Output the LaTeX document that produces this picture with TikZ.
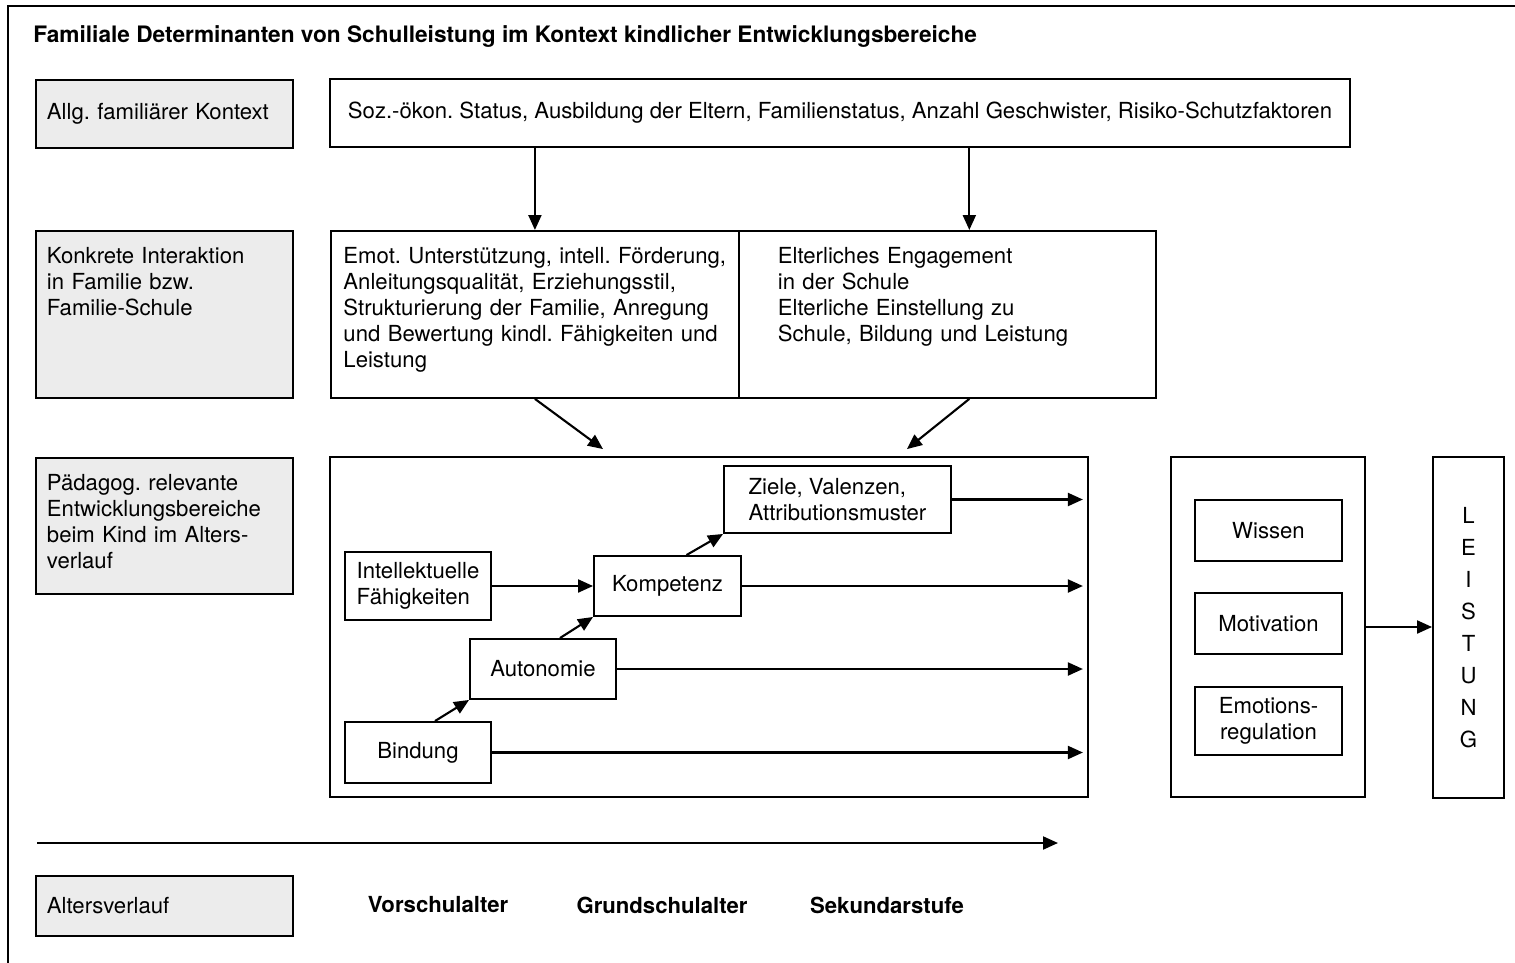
\documentclass[tikz,border=0pt]{standalone}
\usepackage{fontspec}
\setmainfont{TeX Gyre Heros}
\usetikzlibrary{arrows.meta, positioning, calc}
\definecolor{boxgray}{RGB}{236, 236, 236}
\newcommand{\boxfont}{\fontsize{12.6}{14.8}\selectfont}
\frenchspacing

\begin{document}
\begin{tikzpicture}[
  x=0.02cm, y=-0.02cm,
  lbox/.style={draw, fill=boxgray, line width=1.1pt, anchor=north west, align=left, text width=4.7cm, inner xsep=0.22cm, font=\boxfont},
  wbox/.style={draw, line width=1.1pt, align=left, font=\boxfont},
  topal/.style={inner ysep=0.25cm, text height=0.4cm, text depth=#1},
  arr/.style={line width=1.2pt, -{Triangle[length=0.3cm, width=0.26cm]}},
  age/.style={font=\boxfont\bfseries}
]
  \useasboundingbox (0,0) rectangle (1515,963);
  \draw[line width=1.1pt] (8,963) -- (8,6) -- (1515,6);
  \node[anchor=west, inner sep=0pt, font=\fontsize{12.9}{15}\selectfont\bfseries] (title) at (33,37) {Familiale Determinanten von Schulleistung im Kontext kindlicher Entwicklungsbereiche};

  % linke Spalte
  \node[lbox, minimum height=1.36cm] (allg) at (35,79) {Allg. familiärer Kontext};
  \node[lbox, topal=2.44cm] (konk) at (35,230) {Konkrete Interaktion\\in Familie bzw.\\Familie-Schule};
  \node[lbox, topal=1.82cm] (paed) at (35,457) {Pädagog. relevante\\Entwicklungsbereiche\\beim Kind im Alters-\\verlauf};
  \node[lbox, minimum height=1.2cm] (alter) at (35,875) {Altersverlauf};

  % Familie
  \node[wbox, minimum width=20.4cm, minimum height=1.36cm] (soz) at (840,113) {Soz.-ökon. Status, Ausbildung der Eltern, Familienstatus, Anzahl Geschwister, Risiko-Schutzfaktoren};
  \node[wbox, anchor=north west, text width=7.66cm, inner xsep=0.25cm, topal=2.44cm] (emot) at (330,230) {Emot. Unterstützung, intell. Förderung,\\Anleitungsqualität, Erziehungsstil,\\Strukturierung der Familie, Anregung\\und Bewertung kindl. Fähigkeiten und\\Leistung};
  \node[wbox, right=-1.1pt of emot, text width=6.78cm, inner xsep=0.78cm, topal=2.44cm] (elt) {Elterliches Engagement\\in der Schule\\Elterliche Einstellung zu\\Schule, Bildung und Leistung};

  % Entwicklungsbereiche
  \node[wbox, minimum width=15.16cm, minimum height=6.8cm] (entw) at (709,627) {};
  \node[wbox, minimum width=4.54cm, minimum height=1.34cm] (ziele) at (837.5,499.5) {Ziele, Valenzen,\\Attributionsmuster};
  \node[wbox, minimum width=2.92cm, minimum height=1.36cm] (intell) at (418,586) {Intellektuelle\\Fähigkeiten};
  \node[wbox, minimum width=2.94cm, minimum height=1.2cm] (komp) at (667.5,586) {Kompetenz};
  \node[wbox, minimum width=2.92cm, minimum height=1.2cm] (auton) at (543,669) {Autonomie};
  \node[wbox, minimum width=2.92cm, minimum height=1.22cm] (bind) at (418,752.5) {Bindung};

  % Leistung
  \node[wbox, minimum width=3.88cm, minimum height=6.8cm] (fakt) at (1268,627) {};
  \node[wbox, minimum width=2.94cm, minimum height=1.22cm] (wissen) at (1268.5,530.5) {Wissen};
  \node[wbox, minimum width=2.94cm, minimum height=1.22cm] (motiv) at (1268.5,623.5) {Motivation};
  \node[wbox, minimum width=2.94cm, minimum height=1.36cm, align=center] (emoreg) at (1268.5,721) {Emotions-\\regulation};
  \node[wbox, minimum width=1.42cm, minimum height=6.82cm, align=center, font=\fontsize{12.6}{18.2}\selectfont] (leist) at (1468.5,627.5) {L\\E\\I\\S\\T\\U\\N\\G};

  % Altersstufen
  \node[age] (vor) at (438,905) {Vorschulalter};
  \node[age] (grund) at (662,905) {Grundschulalter};
  \node[age] (sek) at (887,905) {Sekundarstufe};

  % Pfeile
  \coordinate (eltin) at ([xshift=0.44cm]elt.north);
  \coordinate (eltout) at ([xshift=0.44cm]elt.south);
  \coordinate (t0) at (37,843);
  \coordinate (t1) at (1058,843);
  \draw[arr] (emot.north |- soz.south) -- (emot.north);
  \draw[arr] (eltin |- soz.south) -- (eltin);
  \draw[arr] (emot.south) -- ([xshift=-2.12cm, yshift=0.14cm]entw.north);
  \draw[arr] (eltout) -- ([xshift=3.96cm, yshift=0.14cm]entw.north);
  \draw[arr] (intell) -- (komp);
  \draw[arr] ([xshift=0.34cm]bind.north) -- (auton.south west);
  \draw[arr] ([xshift=0.34cm]auton.north) -- (komp.south west);
  \draw[arr] ([xshift=0.38cm]komp.north) -- (ziele.south west);
  \foreach \b in {ziele, komp, auton, bind}
    \draw[arr, shorten >=0.12cm] (\b.east) -- (\b.east -| entw.east);
  \draw[arr] (fakt.east) -- (fakt.east -| leist.west);
  \draw[arr] (t0) -- (t1);
\end{tikzpicture}
\end{document}
